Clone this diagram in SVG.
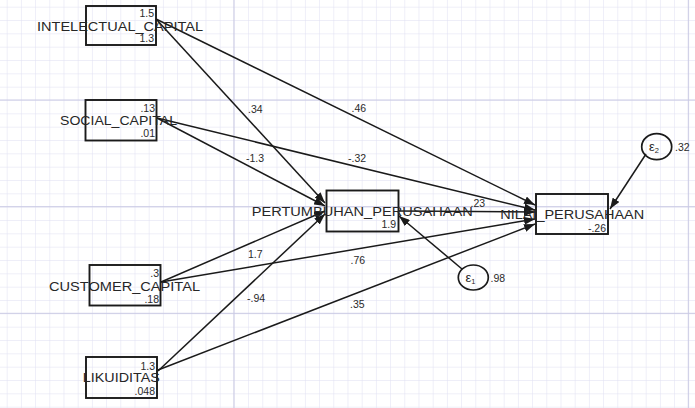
<svg xmlns="http://www.w3.org/2000/svg" width="695" height="408" viewBox="0 0 695 408">
  <style>
    .box { fill: none; stroke: #1a1a1a; stroke-width: 1.9; }
    .err { fill: none; stroke: #1a1a1a; stroke-width: 1.7; }
    .path { stroke: #1a1a1a; stroke-width: 1.5; fill: none; marker-end: url(#ah); }
    .name { font-family: "Liberation Sans", Arial, sans-serif; font-size: 12.5px; fill: #262626; text-anchor: middle; }
    .num { font-family: "Liberation Sans", Arial, sans-serif; font-size: 10.5px; fill: #2a2a2a; }
    .r { text-anchor: end; }
    .eps { font-family: "Liberation Sans", Arial, sans-serif; font-size: 13px; fill: #262626; }
    .sub { font-size: 7.5px; }
  </style>
  <defs>
    <pattern id="minor" x="6.7" y="6.7" width="14.2" height="13.333" patternUnits="userSpaceOnUse">
      <path d="M0,0 V13.333 M0,0 H14.2" stroke="#dedef2" stroke-width="1" fill="none"/>
    </pattern>
    <marker id="ah" viewBox="0 0 11 8" refX="11" refY="4" markerWidth="11" markerHeight="8" orient="auto" markerUnits="userSpaceOnUse">
      <path d="M0,0 L11,4 L0,8 z" fill="#1a1a1a"/>
    </marker>
  </defs>

  <!-- background grid -->
  <rect width="695" height="408" fill="#ffffff"/>
  <rect width="695" height="408" fill="url(#minor)"/>
  <g stroke="#cacae4" stroke-width="1">
    <line x1="0" y1="100" x2="695" y2="100"/>
    <line x1="0" y1="206.7" x2="695" y2="206.7"/>
    <line x1="0" y1="313.3" x2="695" y2="313.3"/>
    <line x1="233.9" y1="0" x2="233.9" y2="408"/>
    <line x1="688.3" y1="0" x2="688.3" y2="408"/>
  </g>

  <!-- structural paths -->
  <g id="connectors">
    <line class="path" x1="156" y1="19" x2="325" y2="203"/>
    <line class="path" x1="156" y1="19" x2="535" y2="205"/>
    <line class="path" x1="157" y1="118" x2="325" y2="206"/>
    <line class="path" x1="157" y1="118" x2="535" y2="210"/>
    <line class="path" x1="161" y1="282" x2="325" y2="211"/>
    <line class="path" x1="161" y1="282" x2="535" y2="219"/>
    <line class="path" x1="158" y1="371" x2="325" y2="214"/>
    <line class="path" x1="158" y1="370" x2="535" y2="224"/>
    <line class="path" x1="398" y1="211" x2="535" y2="212"/>
    <line class="path" x1="462" y1="269" x2="399" y2="216"/>
    <line class="path" x1="646" y1="154" x2="610" y2="209"/>
  </g>

  <!-- path coefficients -->
  <g id="coefficients" class="num">
    <text x="248" y="113">.34</text>
    <text x="351.5" y="111.5">.46</text>
    <text x="246" y="162">-1.3</text>
    <text x="348" y="161.5">-.32</text>
    <text x="470.5" y="206.5">.23</text>
    <text x="248" y="258">1.7</text>
    <text x="350.5" y="263.5">.76</text>
    <text x="247" y="301.5">-.94</text>
    <text x="350" y="308">.35</text>
  </g>

  <g id="intelectual_capital">
    <rect class="box" x="86" y="6" width="70" height="39"/>
    <text class="name" x="120" y="30.5" textLength="166" lengthAdjust="spacingAndGlyphs">INTELECTUAL_CAPITAL</text>
    <text class="num r" x="154" y="17">1.5</text>
    <text class="num r" x="154" y="42">1.3</text>
  </g>

  <g id="social_capital">
    <rect class="box" x="85.5" y="100" width="71" height="40.5"/>
    <text class="name" x="118.5" y="125" textLength="117" lengthAdjust="spacingAndGlyphs">SOCIAL_CAPITAL</text>
    <text class="num r" x="155" y="111.5">.13</text>
    <text class="num r" x="155" y="137">.01</text>
  </g>

  <g id="customer_capital">
    <rect class="box" x="89.5" y="265" width="71" height="40.5"/>
    <text class="name" x="124.5" y="290.5" textLength="151" lengthAdjust="spacingAndGlyphs">CUSTOMER_CAPITAL</text>
    <text class="num r" x="159" y="276.5">.3</text>
    <text class="num r" x="159" y="303">.18</text>
  </g>

  <g id="likuiditas">
    <rect class="box" x="86" y="357" width="71" height="41"/>
    <text class="name" x="121.3" y="381.5" textLength="77" lengthAdjust="spacingAndGlyphs">LIKUIDITAS</text>
    <text class="num r" x="155" y="370">1.3</text>
    <text class="num r" x="155" y="394.5">.048</text>
  </g>

  <g id="pertumbuhan_perusahaan">
    <rect class="box" x="326.5" y="190.5" width="72" height="41"/>
    <text class="name" x="362.2" y="215.5" textLength="221" lengthAdjust="spacingAndGlyphs">PERTUMBUHAN_PERUSAHAAN</text>
    <text class="num r" x="396" y="227.5">1.9</text>
  </g>

  <g id="nilai_perusahaan">
    <rect class="box" x="536" y="194" width="72" height="40"/>
    <text class="name" x="572.2" y="219.3" textLength="144" lengthAdjust="spacingAndGlyphs">NILAI_PERUSAHAAN</text>
    <text class="num r" x="606" y="231.5">-.26</text>
  </g>

  <g id="e1">
    <ellipse class="err" cx="473.3" cy="277.5" rx="15" ry="12.5"/>
    <text class="eps" x="465.5" y="282">ε<tspan class="sub" dy="2">1</tspan></text>
    <text class="num" x="490.5" y="282">.98</text>
  </g>

  <g id="e2">
    <ellipse class="err" cx="656.7" cy="146.7" rx="15" ry="13"/>
    <text class="eps" x="649" y="151">ε<tspan class="sub" dy="2">2</tspan></text>
    <text class="num" x="675" y="150.5">.32</text>
  </g>
</svg>
